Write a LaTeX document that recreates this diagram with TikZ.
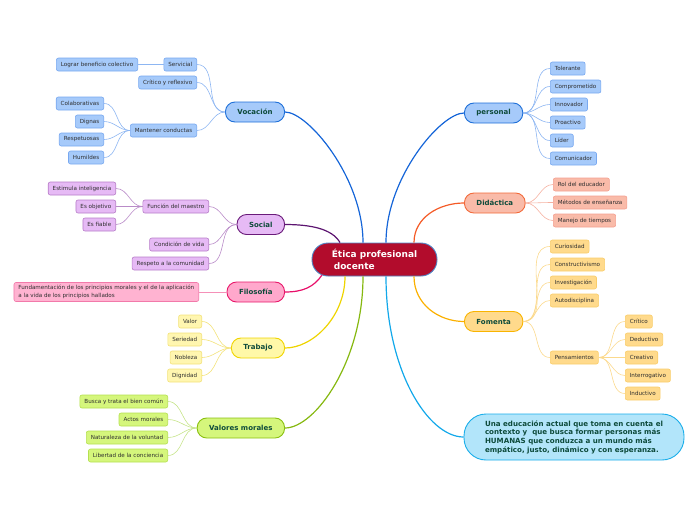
\documentclass[tikz,border=0pt]{standalone}
\usepackage{fontspec}
\setmainfont{DejaVu Sans}
\definecolor{cred}{HTML}{B20C2C}
\definecolor{cborder}{HTML}{4F86C6}
\definecolor{toptext}{HTML}{0E4B3B}
\definecolor{leaftext}{HTML}{2E2E2E}
% blue
\definecolor{bfill}{HTML}{A6CAFA}\definecolor{bdraw}{HTML}{1E6FD8}\definecolor{bedge}{HTML}{1565D8}
\definecolor{bldraw}{HTML}{78A8F0}\definecolor{bledge}{HTML}{8DB6F2}
% purple
\definecolor{pfill}{HTML}{E6BAF5}\definecolor{pdraw}{HTML}{6A1B7A}\definecolor{pedge}{HTML}{5C1470}
\definecolor{pldraw}{HTML}{B77CC8}\definecolor{pledge}{HTML}{B98BC8}
% pink
\definecolor{kfill}{HTML}{FFA8CC}\definecolor{kdraw}{HTML}{E8186A}\definecolor{kedge}{HTML}{E8106A}
\definecolor{klfill}{HTML}{FFB3D1}\definecolor{kldraw}{HTML}{F27AAA}\definecolor{kledge}{HTML}{F590B8}
% yellow
\definecolor{yfill}{HTML}{FFF8A8}\definecolor{ydraw}{HTML}{F0D400}\definecolor{yedge}{HTML}{EED400}
\definecolor{ylfill}{HTML}{FFF6B0}\definecolor{yldraw}{HTML}{F3E27A}\definecolor{yledge}{HTML}{F3E27A}
% green
\definecolor{gfill}{HTML}{D5F67C}\definecolor{gdraw}{HTML}{8AC010}\definecolor{gedge}{HTML}{86B810}
\definecolor{gldraw}{HTML}{B5E050}\definecolor{gledge}{HTML}{C6E48A}
% salmon
\definecolor{sfill}{HTML}{F9BBA9}\definecolor{sdraw}{HTML}{F26A3A}\definecolor{sedge}{HTML}{F45A26}
\definecolor{sldraw}{HTML}{F4A090}\definecolor{sledge}{HTML}{F5B0A0}
% orange
\definecolor{ofill}{HTML}{FFDA8C}\definecolor{odraw}{HTML}{F9B400}\definecolor{oedge}{HTML}{FBB000}
\definecolor{oldraw}{HTML}{F9CD6A}\definecolor{oledge}{HTML}{FBD98C}
% cyan
\definecolor{cyfill}{HTML}{B2E5FA}\definecolor{cydraw}{HTML}{1AAEEA}\definecolor{cyedge}{HTML}{12A8EA}
\tikzset{
  leafbase/.style={draw, rounded corners=2pt, inner xsep=4.5pt, inner ysep=0pt,
    minimum height=13pt, line width=0.6pt, text=leaftext,
    font=\fontsize{5.6}{6.5}\selectfont},
  topicbase/.style={draw, rounded corners=9.5pt, inner xsep=12pt, inner ysep=0pt,
    minimum height=20pt, line width=0.9pt, text=toptext,
    font=\bfseries\fontsize{7}{8.5}\selectfont},
  bleaf/.style={leafbase, fill=bfill, draw=bldraw},
  pleaf/.style={leafbase, fill=pfill, draw=pldraw},
  kleaf/.style={leafbase, fill=klfill, draw=kldraw},
  yleaf/.style={leafbase, fill=ylfill, draw=yldraw},
  gleaf/.style={leafbase, fill=gfill, draw=gldraw},
  sleaf/.style={leafbase, fill=sfill, draw=sldraw},
  oleaf/.style={leafbase, fill=ofill, draw=oldraw},
  btopic/.style={topicbase, fill=bfill, draw=bdraw},
  ptopic/.style={topicbase, fill=pfill, draw=pdraw},
  ktopic/.style={topicbase, fill=kfill, draw=kdraw},
  ytopic/.style={topicbase, fill=yfill, draw=ydraw},
  gtopic/.style={topicbase, fill=gfill, draw=gdraw},
  stopic/.style={topicbase, fill=sfill, draw=sdraw},
  otopic/.style={topicbase, fill=ofill, draw=odraw},
  mainline/.style={line width=1.2pt},
  leafline/.style={line width=0.6pt},
  lcurve/.style={leafline, out=180, in=0},
  rcurve/.style={leafline, out=0, in=180},
}
\begin{document}
\begin{tikzpicture}[x=1pt,y=-1pt]
\useasboundingbox (0,0) rectangle (696,520);

% central
\node[fill=cred, draw=cborder, line width=0.9pt, rounded corners=16pt,
  minimum width=125pt, minimum height=33pt, text=white, align=left,
  font=\bfseries\fontsize{9}{12}\selectfont] (c) at (374.5,259.5)
  {Ética profesional\\\hspace*{2pt}docente};

% topics
\node[btopic, anchor=east] (voc) at (285,112) {Vocación};
\node[ptopic, anchor=east] (soc) at (285,224.5) {Social};
\node[ktopic, anchor=east] (fil) at (285,292) {Filosofía};
\node[ytopic, anchor=east] (tra) at (285,348) {Trabajo};
\node[gtopic, anchor=east] (val) at (285,428) {Valores morales};
\node[btopic, anchor=west] (per) at (464,113) {personal};
\node[stopic, anchor=west] (did) at (464,203) {Didáctica};
\node[otopic, anchor=west] (fom) at (464,321.5) {Fomenta};
\node[draw=cydraw, fill=cyfill, line width=0.9pt, rounded corners=22pt,
  minimum width=220pt, minimum height=46pt, text=toptext, align=left,
  font=\bfseries\fontsize{7.1}{8.7}\selectfont] (big) at (574,437)
  {Una educación actual que toma en cuenta el\\
   contexto y \ que busca formar personas más\\
   HUMANAS que conduzca a un mundo más\\
   empático, justo, dinámico y con esperanza.};

% Vocación leaves
\node[bleaf, anchor=east] (serv) at (197,64.5) {Servicial};
\node[bleaf, anchor=east] (lograr) at (138,64.5) {Lograr beneficio colectivo};
\node[bleaf, anchor=east] (crit) at (197,82.5) {Crítico y reflexivo};
\node[bleaf, anchor=east] (mant) at (197,130.5) {Mantener conductas};
\node[bleaf, anchor=east] (colab) at (104,103.5) {Colaborativas};
\node[bleaf, anchor=east] (dign) at (104,121.5) {Dignas};
\node[bleaf, anchor=east] (resp) at (104,139.5) {Respetuosas};
\node[bleaf, anchor=east] (humil) at (104,157.5) {Humildes};

% Social leaves
\node[pleaf, anchor=east] (func) at (209,206.5) {Función del maestro};
\node[pleaf, anchor=east] (estim) at (116,188.5) {Estimula inteligencia};
\node[pleaf, anchor=east] (obj) at (116,206.5) {Es objetivo};
\node[pleaf, anchor=east] (fiab) at (116,224.5) {Es fiable};
\node[pleaf, anchor=east] (cond) at (209,244.5) {Condición de vida};
\node[pleaf, anchor=east] (respc) at (209,263.5) {Respeto a la comunidad};

% Filosofía leaf
\node[kleaf, anchor=east, align=left, minimum height=19pt,
  font=\fontsize{5.6}{8}\selectfont] (fund) at (199,292)
  {Fundamentación de los principios morales y el de la aplicación\\
   a la vida de los principios hallados};

% Trabajo leaves
\node[yleaf, anchor=east] (valor) at (202,321.5) {Valor};
\node[yleaf, anchor=east] (seri) at (202,339.5) {Seriedad};
\node[yleaf, anchor=east] (nob) at (202,357.5) {Nobleza};
\node[yleaf, anchor=east] (digd) at (202,375.5) {Dignidad};

% Valores leaves
\node[gleaf, anchor=east] (busca) at (168,401.5) {Busca y trata el bien común};
\node[gleaf, anchor=east] (actos) at (168,419.5) {Actos morales};
\node[gleaf, anchor=east] (natu) at (168,437.5) {Naturaleza de la voluntad};
\node[gleaf, anchor=east] (libe) at (168,455.5) {Libertad de la conciencia};

% personal leaves
\node[bleaf, anchor=west] (tol) at (550,68.5) {Tolerante};
\node[bleaf, anchor=west] (comp) at (550,86.5) {Comprometido};
\node[bleaf, anchor=west] (inno) at (550,104.5) {Innovador};
\node[bleaf, anchor=west] (proa) at (550,122.5) {Proactivo};
\node[bleaf, anchor=west] (lide) at (550,140.5) {Líder};
\node[bleaf, anchor=west] (comu) at (550,158.5) {Comunicador};

% Didáctica leaves
\node[sleaf, anchor=west] (rol) at (553,184.5) {Rol del educador};
\node[sleaf, anchor=west] (meto) at (553,202.5) {Métodos de enseñanza};
\node[sleaf, anchor=west] (mane) at (553,220.5) {Manejo de tiempos};

% Fomenta leaves
\node[oleaf, anchor=west] (curi) at (550,246.5) {Curiosidad};
\node[oleaf, anchor=west] (cons) at (550,264.5) {Constructivismo};
\node[oleaf, anchor=west] (inve) at (550,282.5) {Investigación};
\node[oleaf, anchor=west] (auto) at (550,300.5) {Autodisciplina};
\node[oleaf, anchor=west] (pens) at (550,357.5) {Pensamientos};
\node[oleaf, anchor=west] (pcri) at (625,321.5) {Crítico};
\node[oleaf, anchor=west] (pded) at (625,339.5) {Deductivo};
\node[oleaf, anchor=west] (pcre) at (625,357.5) {Creativo};
\node[oleaf, anchor=west] (pint) at (625,375.5) {Interrogativo};
\node[oleaf, anchor=west] (pind) at (625,393.5) {Inductivo};

% main connectors
\draw[mainline, bedge] ([xshift=-11.5pt]c.north) .. controls +(0,-65) and +(23,0) .. (voc.east);
\draw[mainline, bedge] ([xshift=11.5pt]c.north) .. controls +(0,-65) and +(-23,0) .. (per.west);
\draw[mainline, pedge] ([xshift=-34.5pt]c.north) .. controls +(-8,-14) and +(25,0) .. (soc.east);
\draw[mainline, sedge] ([xshift=39.5pt]c.north) .. controls +(0,-25) and +(-25,0) .. (did.west);
\draw[mainline, kedge] ([xshift=-52.5pt,yshift=1.5pt]c.south) .. controls +(-8,12) and +(18,0) .. (fil.east);
\draw[mainline, yedge] ([xshift=-29.5pt]c.south) .. controls +(0,40) and +(28,0) .. (tra.east);
\draw[mainline, gedge] ([xshift=-11.5pt]c.south) .. controls +(0,85) and +(30,0) .. (val.east);
\draw[mainline, cyedge] ([xshift=11.5pt]c.south) .. controls +(0,95) and +(-35,0) .. (big.west);
\draw[mainline, oedge] ([xshift=39.5pt]c.south) .. controls +(0,28) and +(-25,0) .. (fom.west);

% leaf connectors
\begin{scope}[bledge]
\draw[lcurve] (voc.west) to (serv.east);
\draw[lcurve] (voc.west) to (crit.east);
\draw[lcurve] (voc.west) to (mant.east);
\draw[leafline] (serv.west) -- (lograr.east);
\draw[lcurve] (mant.west) to (colab.east);
\draw[lcurve] (mant.west) to (dign.east);
\draw[lcurve] (mant.west) to (resp.east);
\draw[lcurve] (mant.west) to (humil.east);
\draw[rcurve] (per.east) to (tol.west);
\draw[rcurve] (per.east) to (comp.west);
\draw[rcurve] (per.east) to (inno.west);
\draw[rcurve] (per.east) to (proa.west);
\draw[rcurve] (per.east) to (lide.west);
\draw[rcurve] (per.east) to (comu.west);
\end{scope}
\begin{scope}[pledge]
\draw[lcurve] (soc.west) to (func.east);
\draw[lcurve] (soc.west) to (cond.east);
\draw[lcurve] (soc.west) to (respc.east);
\draw[lcurve] (func.west) to (estim.east);
\draw[lcurve] (func.west) to (obj.east);
\draw[lcurve] (func.west) to (fiab.east);
\end{scope}
\draw[leafline, kledge] (fil.west) -- (fund.east);
\begin{scope}[yledge]
\draw[lcurve] (tra.west) to (valor.east);
\draw[lcurve] (tra.west) to (seri.east);
\draw[lcurve] (tra.west) to (nob.east);
\draw[lcurve] (tra.west) to (digd.east);
\end{scope}
\begin{scope}[gledge]
\draw[lcurve] (val.west) to (busca.east);
\draw[lcurve] (val.west) to (actos.east);
\draw[lcurve] (val.west) to (natu.east);
\draw[lcurve] (val.west) to (libe.east);
\end{scope}
\begin{scope}[sledge]
\draw[rcurve] (did.east) to (rol.west);
\draw[rcurve] (did.east) to (meto.west);
\draw[rcurve] (did.east) to (mane.west);
\end{scope}
\begin{scope}[oledge]
\draw[rcurve] (fom.east) to (curi.west);
\draw[rcurve] (fom.east) to (cons.west);
\draw[rcurve] (fom.east) to (inve.west);
\draw[rcurve] (fom.east) to (auto.west);
\draw[rcurve] (fom.east) to (pens.west);
\draw[rcurve] (pens.east) to (pcri.west);
\draw[rcurve] (pens.east) to (pded.west);
\draw[rcurve] (pens.east) to (pcre.west);
\draw[rcurve] (pens.east) to (pint.west);
\draw[rcurve] (pens.east) to (pind.west);
\end{scope}
\end{tikzpicture}
\end{document}
